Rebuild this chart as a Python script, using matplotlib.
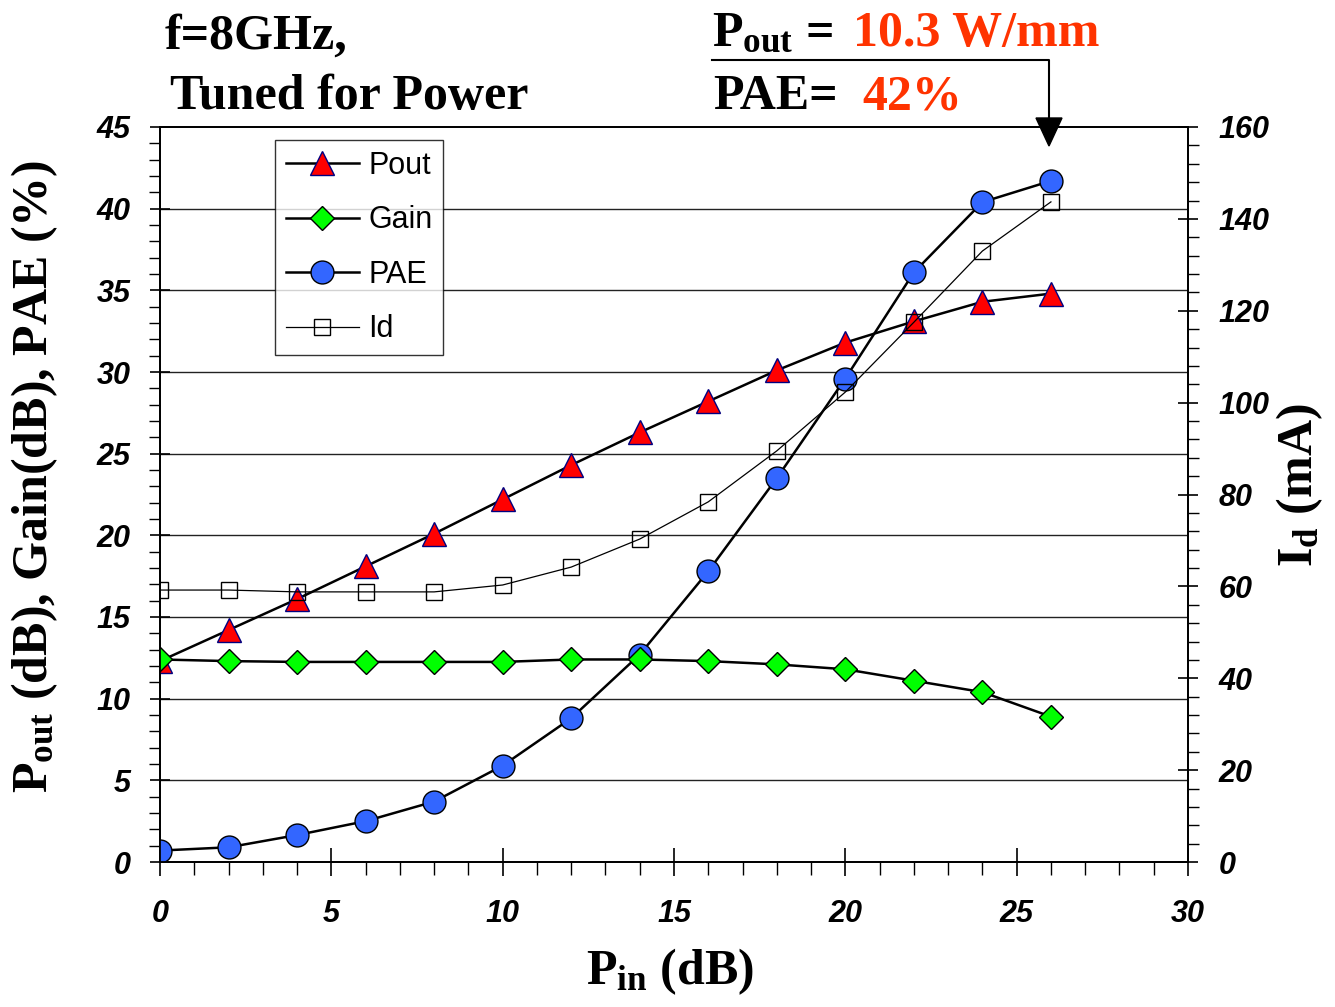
import matplotlib
matplotlib.use("Agg")
import matplotlib.pyplot as plt
from matplotlib.lines import Line2D
from matplotlib.patches import Polygon
from matplotlib.ticker import MultipleLocator

plt.rcParams["mathtext.fontset"] = "custom"
plt.rcParams["mathtext.rm"] = "Liberation Serif:bold"
plt.rcParams["mathtext.bf"] = "Liberation Serif:bold"
plt.rcParams["mathtext.it"] = "Liberation Serif:bold"

# Mesures à 8 GHz, accord en puissance
pin = [0, 2, 4, 6, 8, 10, 12, 14, 16, 18, 20, 22, 24, 26]
pout = [12.3, 14.2, 16.1, 18.1, 20.1, 22.2, 24.3, 26.3, 28.2, 30.1, 31.8, 33.1, 34.3, 34.8]
gain = [12.4, 12.3, 12.25, 12.25, 12.25, 12.25, 12.4, 12.4, 12.3, 12.1, 11.8, 11.1, 10.4, 8.9]
pae = [0.7, 0.9, 1.65, 2.5, 3.7, 5.9, 8.8, 12.7, 17.8, 23.5, 29.6, 36.1, 40.4, 41.7]
id_ma = [59.2, 59.2, 58.8, 58.8, 58.8, 60.3, 64.2, 70.3, 78.4, 89.5, 102.3, 117.5, 133.0, 143.7]

W, H = 1335, 1007
fig = plt.figure(figsize=(W / 100, H / 100), dpi=100)
ax = fig.add_axes([160 / W, 1 - 862 / H, 1028 / W, 735 / H])
ax2 = ax.twinx()

tick_font = dict(family="Liberation Sans", weight="bold", style="italic", size=22)
serif = dict(family="Liberation Serif", weight="bold")

# Grille horizontale
for v in range(5, 45, 5):
    ax.axhline(v, color="#222222", lw=1.0, zorder=0)

l_pout, = ax.plot(pin, pout, color="black", lw=1.8, marker="^", ms=17,
                  mfc="#FF0000", mec="#000080", mew=1.0, label="Pout", zorder=3)
l_gain, = ax.plot(pin, gain, color="black", lw=1.8, marker="D", ms=12.5,
                  mfc="#00FF00", mec="black", mew=1.0, label="Gain", zorder=4)
l_pae, = ax.plot(pin, pae, color="black", lw=1.8, marker="o", ms=16.5,
                 mfc="#3366FF", mec="black", mew=1.0, label="PAE", zorder=3)
l_id, = ax2.plot(pin, id_ma, color="black", lw=0.9, marker="s", ms=11.5,
                 mfc="none", mec="black", mew=1.0, label="Id")

ax.set_xlim(0, 30)
ax.set_ylim(0, 45)
ax2.set_ylim(0, 160)

ax.xaxis.set_major_locator(MultipleLocator(5))
ax.xaxis.set_minor_locator(MultipleLocator(1))
ax.yaxis.set_major_locator(MultipleLocator(5))
ax.yaxis.set_minor_locator(MultipleLocator(1))
ax2.yaxis.set_major_locator(MultipleLocator(20))
ax2.yaxis.set_minor_locator(MultipleLocator(4))

ax.tick_params(axis="x", which="major", direction="inout", length=20, width=1.2, pad=17)
ax.tick_params(axis="x", which="minor", direction="out", length=9, width=1.0)
ax.tick_params(axis="y", which="major", direction="inout", length=14, width=1.2, pad=14)
ax.tick_params(axis="y", which="minor", direction="out", length=8, width=1.0)
ax2.tick_params(axis="y", which="major", direction="inout", length=14, width=1.2, pad=15)
ax2.tick_params(axis="y", which="minor", direction="out", length=8, width=1.0)

for lab in ax.get_xticklabels() + ax.get_yticklabels() + ax2.get_yticklabels():
    lab.set(**tick_font)

for a in (ax, ax2):
    for s in a.spines.values():
        s.set_linewidth(1.3)

ax.set_xlabel(r"$\mathbf{P_{in}}$ (dB)", fontsize=36, va="center", **serif)
ax.xaxis.set_label_coords(0.496, -0.1497)
ax.set_ylabel(r"$\mathbf{P_{out}}$ (dB), Gain(dB), PAE (%)", fontsize=36, va="center", **serif)
ax.yaxis.set_label_coords(-0.1216, 0.524)
ax2.set_ylabel(r"$\mathbf{I_{d}}$ (mA)", fontsize=36, va="center", **serif)
ax2.yaxis.set_label_coords(1.109, 0.513)

leg = ax2.legend(handles=[l_pout, l_gain, l_pae, l_id], loc="upper left",
                 bbox_to_anchor=(0.112, 0.982), borderaxespad=0, frameon=True, fancybox=False,
                 prop=dict(family="Liberation Sans", size=22), handlelength=2.4,
                 borderpad=0.35, labelspacing=0.8, handletextpad=0.3)
leg.get_frame().set_edgecolor("black")
leg.get_frame().set_linewidth(1.0)

# Annotations en haut
fig.text(165 / W, 1 - 37 / H, "f=8GHz,", fontsize=36, va="center", ha="left", **serif)
fig.text(170 / W, 1 - 97 / H, "Tuned for Power", fontsize=36, va="center", ha="left", **serif)
fig.text(712 / W, 1 - 46 / H, r"$\mathbf{P_{out}}$ =", fontsize=36, va="baseline", ha="left", **serif)
fig.text(853 / W, 1 - 46 / H, "10.3 W/mm", fontsize=36, va="baseline", ha="left",
         color="#FF3300", **serif)
fig.text(713 / W, 1 - 109 / H, "PAE=", fontsize=36, va="baseline", ha="left", **serif)
fig.text(862 / W, 1 - 109 / H, "42%", fontsize=36, va="baseline", ha="left",
         color="#FF3300", **serif)

# Flèche vers le point de puissance maximale
fig.add_artist(Line2D([712 / W, 1049 / W, 1049 / W], [1 - 60 / H, 1 - 60 / H, 1 - 120 / H],
                      transform=fig.transFigure, color="black", lw=1.5))
fig.add_artist(Polygon([(1036 / W, 1 - 118 / H), (1062 / W, 1 - 118 / H), (1049 / W, 1 - 146 / H)],
                       closed=True, transform=fig.transFigure, color="black"))

fig.savefig("out.png", dpi=100)
